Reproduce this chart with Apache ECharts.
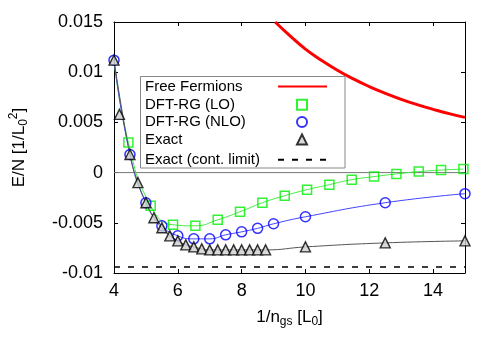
<!DOCTYPE html>
<html>
<head>
<meta charset="utf-8">
<script src="https://cdn.jsdelivr.net/npm/echarts@6/dist/echarts.min.js"></script>
<style>
html,body{margin:0;padding:0;background:#fff;}
#c{width:498px;height:349px;}
</style>
</head>
<body>
<div id="c"></div>
<script>
// ---- data ----
const xRange = [4, 15];
const yRange = [-0.01, 0.015];

const freeX = [9.05, 9.5, 10, 10.5, 11, 11.5, 12, 12.5, 13, 13.5, 14, 14.5, 15];
const freeY = [0.0150, 0.01367, 0.0123, 0.01119, 0.0102, 0.00933, 0.00857, 0.0079, 0.0073, 0.00677, 0.0063, 0.00587, 0.0055];

// DFT-RG (LO)
const loX = [4.45, 5.15, 5.85, 6.55, 7.25, 7.95, 8.65, 9.35, 10.05, 10.75, 11.45, 12.15, 12.85, 13.55, 14.25, 14.95];
const loY = [0.0030, -0.0033, -0.0052, -0.0053, -0.0047, -0.0039, -0.0030, -0.0023, -0.0017, -0.0012, -0.0007, -0.0004, -0.00013, 0.0001, 0.00025, 0.00035];
const loLineStartX = [4];
const loLineStartY = [0.0112];

// DFT-RG (NLO)
const nloX = [4, 4.5, 5, 5.5, 6, 6.5, 7, 7.5, 8, 8.5, 9, 10, 12.5, 15];
const nloY = [0.0112, 0.0018, -0.0030, -0.0053, -0.0063, -0.0066, -0.0066, -0.0062, -0.0059, -0.00555, -0.0051, -0.0044, -0.0030, -0.0021];

// Exact
const exX = [4, 4.17, 4.5, 4.75, 5, 5.25, 5.5, 5.75, 6, 6.25, 6.5, 6.75, 7, 7.25, 7.5, 7.75, 8, 8.25, 8.5, 8.75, 10, 12.5, 15];
const exY = [0.0112, 0.0058, 0.0018, -0.0010, -0.0030, -0.0045, -0.0055, -0.0063, -0.0068, -0.0072, -0.0074, -0.0076, -0.0077, -0.0077, -0.0077, -0.0077, -0.0077, -0.0077, -0.0077, -0.0077, -0.0074, -0.0070, -0.0068];
const exLineSkip = [4.17]; // this point is not on the drawn curve

// Exact (cont. limit)
const contX = [4, 15];
const contY = [-0.0094, -0.0094];

// zero reference line
const zeroX = [4, 15];
const zeroY = [0, 0];

const legendLineTop = ['Free Fermions'];
const legendMarkers = ['DFT-RG (LO)', 'DFT-RG (NLO)', 'Exact'];
const legendLineBottom = ['Exact (cont. limit)'];

// ---- build ----
const zip = (xs, ys) => xs.map((x, i) => [x, ys[i]]);
const FONT = '"Liberation Sans", Arial, Helvetica, sans-serif';

const chart = echarts.init(document.getElementById('c'), null, {renderer: 'canvas'});

const subRich = {
  sub: {fontSize: 12, fontFamily: FONT, color: '#000', verticalAlign: 'bottom', lineHeight: 12},
  sup: {fontSize: 12, fontFamily: FONT, color: '#000', verticalAlign: 'top', lineHeight: 12}
};

const baseAxis = {
  axisLine: {show: true, onZero: false, lineStyle: {color: '#000', width: 1}},
  axisTick: {show: true, inside: true, length: 4, lineStyle: {color: '#000'}},
  splitLine: {show: false}
};

const hiddenSymbol = {color: 'rgba(0,0,0,0)', borderColor: 'rgba(0,0,0,0)', borderWidth: 0, opacity: 0};

function makeLegend(names, top, itemWidth, textWidth) {
  return {
    orient: 'vertical', left: 145, top: top, align: 'right',
    data: names, itemWidth: itemWidth, itemHeight: 10, itemGap: 2.3,
    padding: 0, z: 200,
    formatter: n => '{t|' + n + '}',
    textStyle: {fontSize: 15, fontFamily: FONT, color: '#000',
      rich: {t: {width: textWidth, align: 'left', fontSize: 15, fontFamily: FONT, color: '#000', lineHeight: 16}}}
  };
}

chart.setOption({
  animation: false,
  backgroundColor: '#fff',
  grid: {left: 110, right: 33, top: 22, bottom: 76, containLabel: false},
  graphic: [{
    type: 'rect', z: 100, silent: true,
    shape: {x: 140.5, y: 76.5, width: 204.5, height: 91.5},
    style: {fill: '#fff', stroke: '#888', lineWidth: 1}
  }],
  legend: [
    makeLegend(legendLineTop, 79, 49, 128),
    makeLegend(legendMarkers, 97.3, 10, 147),
    makeLegend(legendLineBottom, 152.3, 49, 128)
  ],
  xAxis: [
    Object.assign({}, baseAxis, {
      type: 'value', min: xRange[0], max: xRange[1], interval: 2, position: 'bottom',
      axisLabel: {fontSize: 18, fontFamily: FONT, color: '#000', margin: 9, showMaxLabel: false},
      name: '1/n{sub|gs} [L{sub|0}]', nameLocation: 'middle', nameGap: 33,
      nameTextStyle: {fontSize: 17, fontFamily: FONT, color: '#000', lineHeight: 22, rich: subRich}
    }),
    Object.assign({}, baseAxis, {
      type: 'value', min: xRange[0], max: xRange[1], interval: 2, position: 'top',
      axisLabel: {show: false}
    })
  ],
  yAxis: [
    Object.assign({}, baseAxis, {
      type: 'value', min: yRange[0], max: yRange[1], interval: 0.005, position: 'left',
      axisLabel: {fontSize: 18, fontFamily: FONT, color: '#000', margin: 11,
        formatter: v => String(+v.toFixed(3))},
      name: 'E/N [1/L{sub|0}{sup|2}]', nameLocation: 'middle', nameGap: 84,
      nameTextStyle: {fontSize: 17, fontFamily: FONT, color: '#000', lineHeight: 22, rich: subRich}
    }),
    Object.assign({}, baseAxis, {
      type: 'value', min: yRange[0], max: yRange[1], interval: 0.005, position: 'right',
      axisLabel: {show: false}
    })
  ],
  series: [
    {name: 'zero', type: 'line', data: zip(zeroX, zeroY), showSymbol: false, symbol: 'none',
      lineStyle: {color: '#777', width: 1}, silent: true, z: 1},
    {name: 'Exact (cont. limit)', type: 'line', data: zip(contX, contY), symbol: 'none', showSymbol: false,
      color: '#000', itemStyle: hiddenSymbol,
      lineStyle: {color: '#000', width: 1.5, type: [6, 8]}, z: 2},
    {name: 'LO line', type: 'line', smooth: true, symbol: 'none', showSymbol: false,
      data: zip(loLineStartX, loLineStartY).concat(zip(loX, loY)),
      lineStyle: {color: '#44ee44', width: 1}, z: 2},
    {name: 'NLO line', type: 'line', smooth: true, symbol: 'none', showSymbol: false,
      data: zip(nloX, nloY), lineStyle: {color: '#4444ff', width: 1}, z: 2},
    {name: 'Exact line', type: 'line', smooth: true, symbol: 'none', showSymbol: false,
      data: zip(exX, exY).filter(p => exLineSkip.indexOf(p[0]) < 0),
      lineStyle: {color: '#555', width: 1}, z: 2},
    {name: 'Free Fermions', type: 'line', smooth: true, symbol: 'none', showSymbol: false,
      data: zip(freeX, freeY), color: '#ff0000', itemStyle: hiddenSymbol,
      lineStyle: {color: '#ff0000', width: 3}, z: 3},
    {name: 'DFT-RG (LO)', type: 'scatter', symbol: 'rect', symbolSize: 9,
      data: zip(loX, loY), color: '#00ee00',
      itemStyle: {color: 'rgba(255,255,255,0)', borderColor: '#00ee00', borderWidth: 1.5}, z: 4},
    {name: 'DFT-RG (NLO)', type: 'scatter', symbol: 'circle', symbolSize: 10,
      data: zip(nloX, nloY), color: '#0000ff',
      itemStyle: {color: 'rgba(255,255,255,0)', borderColor: '#0000ff', borderWidth: 1.5}, z: 5},
    {name: 'Exact', type: 'scatter', symbol: 'triangle', symbolSize: 10,
      data: zip(exX, exY), color: '#000',
      itemStyle: {color: '#cfcfcf', borderColor: '#000', borderWidth: 1.4}, z: 6}
  ]
});
</script>
</body>
</html>
